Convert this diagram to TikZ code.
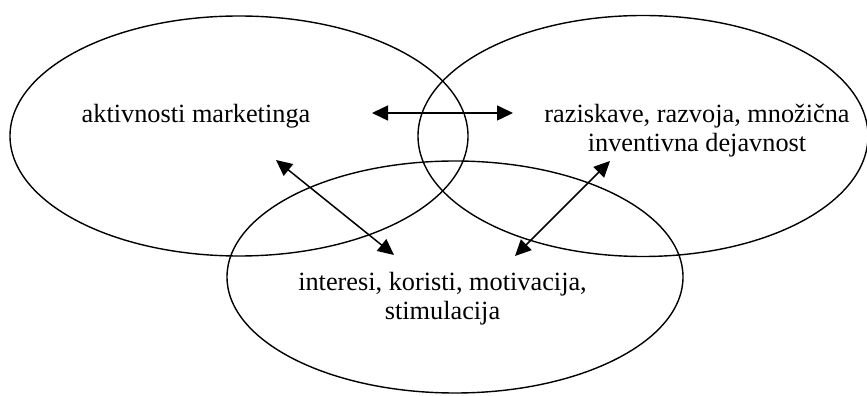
\documentclass[tikz,border=0pt]{standalone}
\usepackage{fontspec}
\setmainfont{Liberation Serif}
\usetikzlibrary{shapes.geometric,arrows.meta}
\begin{document}
\begin{tikzpicture}[x=1pt,y=1pt,
  ring/.style={draw, line width=1.4pt, ellipse, inner sep=0pt},
  lbl/.style={font=\fontsize{26.3}{29.5}\selectfont, align=center, inner sep=0pt},
  link/.style={line width=1.5pt, {Triangle[length=16pt,width=15pt]}-{Triangle[length=16pt,width=15pt]}}]
\useasboundingbox (0,0) rectangle (867,396);
\node[ring, minimum width=458pt, minimum height=240pt] (eL) at (239,260) {};
\node[ring, minimum width=450pt, minimum height=241pt] (eR) at (643,260) {};
\node[ring, minimum width=456pt, minimum height=232pt] (eB) at (455,119) {};
\node[lbl, anchor=base] (tL) at (196,273) {aktivnosti marketinga};
\node[lbl, anchor=base] (tR) at (697,244) {raziskave, razvoja, množična\\inventivna dejavnost};
\node[lbl, anchor=base] (tB) at (442.5,76) {interesi, koristi, motivacija,\\stimulacija};
\coordinate (h1) at (372,283);
\coordinate (h2) at (513,283);
\coordinate (d1) at (276,236);
\coordinate (d2) at (394,141);
\coordinate (d3) at (610,235);
\coordinate (d4) at (515,140);
\draw[link] (h1) -- (h2);
\draw[link] (d1) -- (d2);
\draw[link] (d3) -- (d4);
\end{tikzpicture}
\end{document}
